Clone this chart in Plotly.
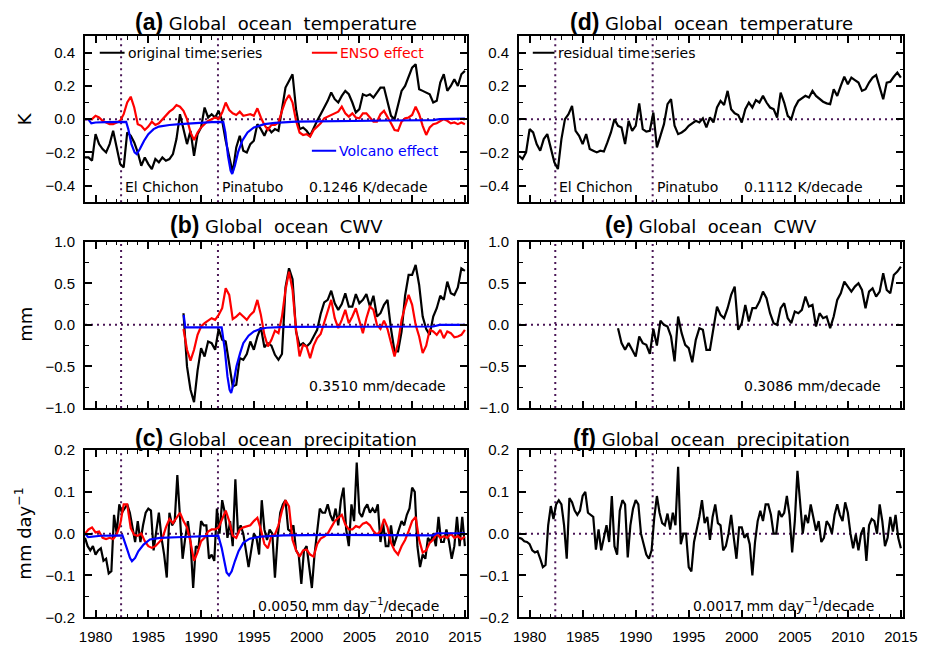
import numpy as np
import plotly.graph_objects as go

W, H = 927, 645
OFF = 8                     # page body margin of the browser
PW, PH = W - OFF, H - OFF   # figure size so that the page fits the window
YEAR0 = 1979.0
X_RANGE = [1979.0, 2015.2]
ERUPTIONS = [1982.42, 1991.6]          # El Chichon, Pinatubo
CWV_START = 1979.0 + 28 / 3.0           # start of the CWV record

# ---------------- (a) Global ocean temperature (K), 4-monthly from 1979 ----------------
temp_orig = [-0.23, -0.23, -0.25, -0.09, -0.15, -0.18, -0.2, -0.15, -0.07, -0.17, -0.27, -0.29,
             -0.08, -0.1, -0.14, -0.2, -0.28, -0.23, -0.27, -0.3, -0.24, -0.26, -0.23, -0.25,
             -0.24, -0.21, -0.12, 0.03, -0.06, -0.15, -0.07, -0.22, -0.09, -0.05, 0.07, 0.01,
             0.03, 0.01, 0.05, -0.01, -0.13, -0.23, -0.32, -0.17, -0.1, -0.19, -0.2, -0.15,
             -0.13, -0.03, -0.06, -0.1, -0.05, -0.08, -0.06, -0.07, 0.05, 0.19, 0.23, 0.27,
             0.06, -0.06, -0.05, -0.07, -0.1, -0.05, -0.01, 0.03, 0.07, 0.11, 0.16, 0.12,
             0.1, 0.14, 0.17, 0.15, 0.1, 0.04, 0.06, 0.15, 0.14, 0.15, 0.13, 0.16,
             0.19, 0.19, 0.1, 0.02, 0.0, 0.08, 0.17, 0.2, 0.25, 0.31, 0.33, 0.18,
             0.17, 0.16, 0.15, 0.1, 0.11, 0.22, 0.27, 0.17, 0.2, 0.24, 0.2, 0.27, 0.29]
temp_enso = [0.0, 0.0, 0.0, 0.02, 0.01, -0.01, -0.02, -0.03, -0.03, -0.02, -0.01, 0.03,
             0.1, 0.135, 0.07, -0.03, -0.04, -0.065, -0.045, -0.015, -0.035, -0.025, 0.0, 0.025,
             0.045, 0.06, 0.085, 0.075, 0.05, 0.0, -0.08, -0.125, -0.08, -0.05, -0.03, -0.01,
             0.0, 0.01, 0.0, 0.04, 0.1, 0.055, 0.035, 0.025, 0.045, 0.02, 0.025, 0.03,
             0.02, 0.065, 0.01, -0.035, -0.065, -0.035, -0.035, -0.02, 0.05, 0.11, 0.145, 0.1,
             -0.01, -0.08, -0.095, -0.09, -0.105, -0.065, -0.045, -0.025, 0.005, 0.015, 0.025, 0.035,
             0.045, 0.075, 0.035, 0.015, 0.035, 0.01, 0.005, 0.035, 0.035, 0.01, -0.015, -0.015,
             0.03, 0.05, 0.015, -0.025, -0.065, -0.07, -0.015, 0.005, 0.01, 0.025, 0.075, 0.03,
             -0.04, -0.095, -0.05, -0.03, -0.025, -0.01, 0.0, -0.01, -0.025, -0.02, -0.03, -0.02, -0.03]
temp_volc_year = [1979.0, 1979.3, 1979.6, 1980.0, 1981.0, 1982.0, 1982.9, 1983.1, 1983.4, 1983.7,
                  1983.9, 1984.2, 1984.6, 1985.0, 1985.5, 1986.0, 1987.0, 1988.0, 1989.0, 1990.0,
                  1991.0, 1992.1, 1992.3, 1992.55, 1992.8, 1992.95, 1993.2, 1993.5, 1993.9, 1994.4,
                  1995.0, 1996.0, 1997.0, 1999.0, 2003.0, 2008.0, 2012.0, 2012.6, 2015.0]
temp_volc = [0.0, 0.0, -0.025, -0.02, -0.018, -0.017, -0.016, -0.06, -0.15, -0.2,
             -0.21, -0.18, -0.13, -0.09, -0.06, -0.045, -0.035, -0.03, -0.025, -0.02,
             -0.018, -0.016, -0.08, -0.22, -0.31, -0.33, -0.28, -0.2, -0.13, -0.08,
             -0.05, -0.03, -0.022, -0.015, -0.01, -0.008, -0.006, 0.0, 0.003]
# ---------------- (d) residual temperature ----------------
temp_resid = [-0.22, -0.24, -0.2, -0.06, -0.08, -0.15, -0.19, -0.12, -0.09, -0.18, -0.26, -0.3,
              -0.12, 0.0, 0.03, 0.08, -0.07, -0.1, -0.15, -0.09, -0.18, -0.19, -0.2, -0.19,
              -0.195, -0.14, -0.08, 0.0, -0.04, -0.05, -0.15, -0.01, -0.07, -0.04, 0.095, -0.06,
              -0.075, -0.07, 0.04, -0.17, -0.1, -0.03, 0.09, 0.12, -0.04, -0.09, -0.08, -0.065,
              -0.04, -0.025, -0.01, -0.02, 0.005, -0.05, 0.01, -0.02, 0.07, 0.11, 0.085, 0.17,
              0.06, 0.035, 0.025, -0.02, 0.06, 0.1, 0.07, 0.115, 0.1, 0.14, 0.1, 0.07,
              0.06, 0.01, 0.16, 0.1, 0.02, 0.0, 0.07, 0.11, 0.125, 0.14, 0.13, 0.17,
              0.14, 0.12, 0.105, 0.095, 0.09, 0.18, 0.14, 0.2, 0.255, 0.21, 0.25, 0.235,
              0.22, 0.17, 0.18, 0.22, 0.25, 0.265, 0.19, 0.12, 0.22, 0.225, 0.255, 0.28, 0.25]

# ---------------- (b) Global ocean CWV (mm), 4-monthly from 1988.33 ----------------
cwv_orig = [0.14, -0.5, -0.78, -0.93, -0.55, -0.28, -0.38, -0.2, -0.22, -0.3, -0.05, -0.18,
            -0.2, -0.45, -0.74, -0.72, -0.4, -0.42, -0.35, -0.2, -0.3, -0.14, -0.03, -0.27,
            -0.22, -0.25, -0.36, -0.42, -0.35, 0.45, 0.68, 0.55, -0.08, -0.25, -0.22, -0.26,
            -0.22, -0.14, -0.06, 0.13, 0.27, 0.3, 0.41, 0.26, 0.18, 0.25, 0.38, 0.22,
            0.22, 0.37, 0.26, 0.3, 0.37, 0.22, 0.35, 0.1, 0.14, 0.24, 0.3, -0.05,
            -0.32, -0.32, -0.08, 0.35, 0.6, 0.6, 0.72, 0.48, 0.1, -0.05, -0.12, 0.1,
            0.2, 0.35, 0.3, 0.52, 0.38, 0.36, 0.45, 0.68, 0.65]
cwv_enso = [-0.05, -0.3, -0.43, -0.3, -0.12, -0.02, 0.02, 0.05, 0.08, 0.06, 0.12, 0.2,
            0.44, 0.36, 0.07, 0.1, 0.14, 0.1, 0.06, 0.12, 0.16, 0.3, 0.12, -0.12,
            -0.26, -0.18, -0.07, -0.1, 0.1, 0.42, 0.64, 0.42, -0.06, -0.38, -0.24, -0.26,
            -0.4, -0.25, -0.16, -0.11, 0.03, 0.14, 0.3, 0.08, -0.04, 0.06, 0.18, 0.02,
            0.1, 0.2, 0.06, -0.1, 0.08, 0.22, 0.18, 0.0, -0.05, 0.05, -0.05, -0.2,
            -0.38, -0.22, 0.06, 0.22, 0.36, 0.24, 0.0, -0.14, -0.34, -0.25, -0.06, -0.08,
            -0.12, -0.06, -0.16, -0.08, -0.1, -0.15, -0.14, -0.12, -0.06]
cwv_volc_year = [1988.35, 1988.5, 1990.0, 1991.95, 1992.25, 1992.5, 1992.7, 1992.85, 1993.05,
                 1993.35, 1993.7, 1994.0, 1994.5, 1995.0, 1995.6, 1996.2, 1998.0, 2005.0,
                 2012.0, 2012.6, 2015.0]
cwv_volc = [0.12, -0.03, -0.03, -0.03, -0.3, -0.62, -0.78, -0.82, -0.72,
            -0.5, -0.34, -0.22, -0.13, -0.08, -0.05, -0.035, -0.025, -0.02,
            -0.02, 0.0, 0.0]
# ---------------- (e) residual CWV ----------------
cwv_resid = [-0.04, -0.22, -0.3, -0.22, -0.3, -0.38, -0.14, -0.22, -0.24, -0.35, -0.05, -0.25,
             0.05, 0.0, -0.02, -0.14, -0.44, 0.1, -0.1, -0.24, -0.28, -0.45, -0.18, -0.04,
             -0.06, -0.3, -0.3, -0.03, 0.22, 0.12, 0.08, 0.2, 0.36, 0.46, -0.06, 0.02,
             0.24, 0.04, 0.2, 0.2, 0.28, 0.4, 0.32, 0.14, 0.02, 0.0, 0.2, 0.26,
             0.08, 0.02, 0.16, 0.14, 0.18, 0.34, 0.22, 0.24, -0.02, 0.14, 0.08, 0.1,
             -0.04, 0.1, 0.3, 0.38, 0.52, 0.46, 0.4, 0.46, 0.5, 0.42, 0.2, 0.4,
             0.44, 0.34, 0.4, 0.62, 0.42, 0.38, 0.6, 0.64, 0.7]

# ---------------- (c) Global ocean precipitation (mm/day), quarterly from 1979 ----------------
prec_orig = [-0.01, -0.03, -0.04, -0.03, -0.05, -0.04, -0.035, -0.065, -0.06, -0.095, -0.09, 0.045,
             0.0, 0.07, 0.05, 0.06, 0.07, 0.05, 0.01, -0.02, 0.03, -0.02, 0.02, 0.05,
             0.06, 0.055, -0.04, 0.0, 0.05, -0.01, -0.05, -0.105, 0.05, 0.02, 0.03, 0.14,
             0.05, -0.06, -0.01, 0.03, -0.02, -0.13, -0.03, -0.035, 0.03, 0.02, 0.02, -0.06,
             -0.05, -0.065, 0.06, 0.0, 0.08, 0.05, -0.01, 0.03, -0.03, 0.13, 0.0, 0.02,
             0.0, -0.04, -0.08, -0.04, 0.0, -0.01, -0.05, 0.08, 0.01, -0.015, 0.01, 0.0,
             -0.105, -0.01, 0.05, 0.07, 0.08, 0.01, 0.005, 0.02, -0.04, -0.05, -0.12, -0.04,
             -0.03, -0.08, -0.13, -0.05, 0.0, 0.06, 0.05, 0.05, 0.07, 0.045, 0.03, 0.06,
             0.02, 0.08, 0.11, 0.01, -0.03, 0.07, 0.03, 0.17, 0.05, 0.04, 0.06, 0.07,
             0.05, 0.06, 0.05, 0.07, -0.02, 0.025, -0.03, -0.03, 0.02, -0.03, -0.01, 0.01,
             0.03, 0.02, 0.045, 0.06, 0.11, 0.1, -0.03, -0.08, -0.05, -0.06, -0.01, -0.02,
             0.0, -0.03, 0.04, -0.02, -0.02, 0.01, -0.02, -0.06, -0.03, 0.04, -0.03, 0.04, -0.03]
prec_enso = [0.0, 0.01, 0.015, 0.003, 0.005, -0.01, -0.013, -0.01, -0.013, -0.002, 0.022, 0.07,
             0.07, 0.013, -0.003, -0.005, 0.0, -0.018, -0.03, -0.034, -0.03, -0.022, -0.012, 0.015,
             0.035, 0.025, 0.038, 0.05, 0.03, 0.015, -0.02, -0.065, -0.045, -0.018, -0.01, 0.005,
             0.01, 0.01, 0.015, 0.035, 0.055, 0.03, -0.005, -0.01, 0.01, 0.015, 0.018, 0.02,
             0.03, 0.038, 0.01, -0.025, -0.035, -0.005, -0.002, 0.02, 0.055, 0.08, 0.065, -0.015,
             -0.04, -0.055, -0.04, -0.038, -0.05, -0.055, -0.025, -0.012, -0.007, 0.0, 0.015, 0.03,
             0.038, 0.045, 0.022, 0.01, 0.01, 0.018, 0.015, 0.024, 0.027, 0.02, 0.006, -0.002,
             0.006, 0.035, 0.015, -0.022, -0.04, -0.05, -0.03, -0.015, 0.006, 0.03, 0.04, -0.015,
             -0.045, -0.04, -0.022, -0.014, 0.0, -0.01, -0.006, -0.01, 0.0, -0.01, -0.006, -0.013, -0.007]
prec_volc_year = [1979.0, 1979.3, 1980.5, 1982.55, 1982.95, 1983.26, 1983.45, 1983.75, 1984.05,
                  1984.55, 1985.15, 1986.1, 1988.3, 1991.63, 1991.95, 1992.17, 1992.42, 1992.65,
                  1992.9, 1993.2, 1993.55, 1994.0, 1994.6, 1995.6, 1997.8, 2002.5, 2012.0,
                  2012.3, 2015.0]
prec_volc = [0.0, -0.008, -0.005, -0.004, -0.034, -0.058, -0.066, -0.058, -0.042,
             -0.026, -0.014, -0.01, -0.008, -0.005, -0.034, -0.065, -0.093, -0.1,
             -0.09, -0.066, -0.042, -0.022, -0.012, -0.007, -0.004, -0.003, -0.004,
             0.001, 0.001]
# ---------------- (f) residual precipitation ----------------
prec_resid = [-0.01, -0.012, -0.018, -0.02, -0.025, -0.04, -0.045, -0.042, -0.06, -0.08, -0.075, 0.02,
              0.066, 0.035, 0.07, 0.08, 0.07, 0.02, -0.06, 0.085, 0.075, 0.055, 0.045, 0.055,
              0.09, 0.1, 0.05, 0.045, 0.04, -0.038, 0.01, -0.04, -0.01, 0.02, -0.02, 0.09,
              -0.03, -0.05, 0.055, 0.08, 0.07, -0.057, 0.02, 0.06, 0.08, 0.07, 0.0, -0.025,
              -0.05, -0.06, -0.04, 0.038, 0.09, 0.05, 0.025, 0.02, 0.048, 0.01, 0.05, 0.02,
              0.16, -0.025, 0.0, 0.0, -0.08, -0.09, -0.02, 0.01, 0.04, 0.08, 0.025, 0.04,
              -0.015, 0.04, 0.07, 0.025, 0.02, -0.04, -0.03, 0.0, 0.045, -0.01, -0.06, 0.015,
              0.015, -0.01, 0.0, -0.025, -0.1, -0.02, 0.03, 0.055, 0.03, 0.07, 0.07, 0.045,
              0.0, 0.0, 0.055, 0.04, 0.05, 0.09, 0.045, -0.045, 0.03, 0.15, 0.08, 0.0,
              0.045, 0.025, 0.07, 0.04, 0.007, 0.03, -0.02, -0.01, 0.03, 0.02, 0.0, 0.045,
              0.07, 0.045, 0.03, 0.075, 0.05, 0.0, -0.035, -0.002, -0.04, 0.0, 0.015, -0.065,
              0.02, 0.035, 0.03, 0.0, 0.07, 0.03, -0.03, -0.01, 0.04, 0.005, 0.045, -0.01, -0.035]

titles = ["Global ocean temperature", "Global ocean CWV", "Global ocean precipitation"]
panel_letters = [["a", "b", "c"], ["d", "e", "f"]]
ytitles = ["K", "mm", "mm day<sup>\u22121</sup>"]
trend_texts = [["0.1246 K/decade", "0.3510 mm/decade", "0.0050 mm day<sup>\u22121</sup>/decade"],
               ["0.1112 K/decade", "0.3086 mm/decade", "0.0017 mm day<sup>\u22121</sup>/decade"]]

BLACK, RED, BLUE, PURPLE = "#000000", "#ff0000", "#0000ff", "#4a1656"
TXT_FONT = "DejaVu Sans"
TICK_FONT = "Liberation Sans"

COLS_PX = [(85, 467), (519, 903)]
ROWS_PX = [(36, 202.3), (241.7, 408), (450, 617.3)]
Y_SPECS = [(-0.5, 0.5, 0.2, 0.1), (-1.0, 1.0, 0.5, 0.25), (-0.2, 0.2, 0.1, 0.05)]


def px_x(px):
    return (px - OFF) / PW


def px_y(py):
    return 1 - (py - OFF) / PH


def t_grid(start, n, step):
    return start + np.arange(n) * step


fig = go.Figure()
layout = dict(template="none", width=PW, height=PH, autosize=False,
              margin=dict(l=0, r=0, t=0, b=0, pad=0, autoexpand=False), showlegend=False,
              plot_bgcolor="white", paper_bgcolor="white")
shapes, annotations = [], []

for c, (xl, xr) in enumerate(COLS_PX):
    for r, (yt, yb) in enumerate(ROWS_PX):
        n = c * 3 + r + 1
        ymin, ymax, ydt, ymn = Y_SPECS[r]
        layout[f"xaxis{n}"] = dict(
            domain=[px_x(xl), px_x(xr)], anchor=f"y{n}", range=X_RANGE, automargin=False,
            tick0=1980, dtick=5, ticks="inside", ticklen=7, tickwidth=1.5, tickcolor="black",
            minor=dict(ticks="inside", ticklen=3.5, dtick=1, tickwidth=1.2, tickcolor="black"),
            mirror="allticks", showline=True, linewidth=2, linecolor="black",
            showgrid=False, zeroline=False, showticklabels=(r == 2),
            tickfont=dict(family=TICK_FONT, size=15, color="black"), ticklabelstandoff=5)
        layout[f"yaxis{n}"] = dict(
            domain=[px_y(yb), px_y(yt)], anchor=f"x{n}", range=[ymin, ymax], automargin=False,
            tick0=0, dtick=ydt, tickformat=".1f", ticks="inside", ticklen=7, tickwidth=1.5,
            tickcolor="black",
            minor=dict(ticks="inside", ticklen=3.5, dtick=ymn, tickwidth=1.2, tickcolor="black"),
            mirror="allticks", showline=True, linewidth=2, linecolor="black",
            showgrid=False, zeroline=False,
            tickfont=dict(family=TICK_FONT, size=15, color="black"), ticklabelstandoff=5)
        # dotted zero line and eruption lines
        dot = dict(color=PURPLE, width=2, dash="2px,4px")
        shapes.append(dict(type="line", xref=f"x{n}", yref=f"y{n}", x0=X_RANGE[0], x1=X_RANGE[1],
                           y0=0, y1=0, line=dot, layer="below"))
        for ex in ERUPTIONS:
            shapes.append(dict(type="line", xref=f"x{n}", yref=f"y{n}", x0=ex, x1=ex,
                               y0=ymin, y1=ymax, line=dot, layer="below"))
        # panel title
        ymid = {0: 22, 1: 225, 2: 438}[r]
        annotations.append(dict(
            xref="paper", yref="paper", x=px_x((xl + xr) / 2), y=px_y(ymid),
            xanchor="center", yanchor="middle", showarrow=False,
            text=(f'<span style="font-family:{TICK_FONT};font-size:23px"><b>({panel_letters[c][r]})</b></span>'
                  f' {titles[r].replace(" ", chr(160) + " ")}'),
            font=dict(family=TXT_FONT, size=18, color="black")))
        # trend text
        ytr = {0: -0.41, 1: -0.74, 2: -0.171}[r]
        xtr = 2000.05 if r < 2 else 1995.2
        annotations.append(dict(xref=f"x{n}", yref=f"y{n}", x=xtr, y=ytr, xanchor="left",
                                yanchor="middle", showarrow=False, text=trend_texts[c][r],
                                font=dict(family=TXT_FONT, size=14, color="black")))
        if r == 0:
            for ex, nm in zip(ERUPTIONS, ["El Chichon", "Pinatubo"]):
                annotations.append(dict(xref=f"x{n}", yref=f"y{n}", x=ex + 0.2, y=-0.41,
                                        xanchor="left", yanchor="middle", showarrow=False,
                                        text=nm, font=dict(family=TXT_FONT, size=14, color="black")))

# y-axis titles
for r, (yt, yb) in enumerate(ROWS_PX):
    xpx = {0: 24, 1: 26, 2: 23}[r]
    annotations.append(dict(xref="paper", yref="paper", x=px_x(xpx), y=px_y((yt + yb) / 2),
                            xanchor="center", yanchor="middle", showarrow=False, textangle=-90,
                            text=ytitles[r], font=dict(family=TXT_FONT, size=18, color="black")))

# legend-like labels
def legend_item(n, x0, x1, y, color, label):
    shapes.append(dict(type="line", xref=f"x{n}", yref=f"y{n}", x0=x0, x1=x1, y0=y, y1=y,
                       line=dict(color=color, width=2)))
    annotations.append(dict(xref=f"x{n}", yref=f"y{n}", x=x1 + 0.1, y=y, xanchor="left",
                            yanchor="middle", showarrow=False, text=label,
                            font=dict(family=TXT_FONT, size=14, color=color)))

legend_item(1, 1980.4, 1982.75, 0.4, BLACK, "original time series")
legend_item(1, 2000.5, 2002.9, 0.4, RED, "ENSO effect")
legend_item(1, 2000.5, 2002.8, -0.19, BLUE, "Volcano effect")
legend_item(4, 1980.3, 1982.35, 0.4, BLACK, "residual time series")

def line(n, x, y, color):
    fig.add_trace(go.Scatter(x=x, y=y, mode="lines", xaxis=f"x{n}", yaxis=f"y{n}",
                             line=dict(color=color, width=2.2), hoverinfo="skip"))

# (a)
line(1, t_grid(YEAR0, len(temp_orig), 1 / 3), temp_orig, BLACK)
line(1, t_grid(YEAR0, len(temp_enso), 1 / 3), temp_enso, RED)
line(1, temp_volc_year, temp_volc, BLUE)
# (b)
line(2, t_grid(CWV_START, len(cwv_orig), 1 / 3), cwv_orig, BLACK)
line(2, t_grid(CWV_START, len(cwv_enso), 1 / 3), cwv_enso, RED)
line(2, cwv_volc_year, cwv_volc, BLUE)
# (c)
line(3, t_grid(YEAR0, len(prec_orig), 0.25), prec_orig, BLACK)
line(3, t_grid(YEAR0, len(prec_enso), 1 / 3), prec_enso, RED)
line(3, prec_volc_year, prec_volc, BLUE)
# (d), (e), (f)
line(4, t_grid(YEAR0, len(temp_resid), 1 / 3), temp_resid, BLACK)
line(5, t_grid(CWV_START, len(cwv_resid), 1 / 3), cwv_resid, BLACK)
line(6, t_grid(YEAR0, len(prec_resid), 0.25), prec_resid, BLACK)

layout["shapes"] = shapes
layout["annotations"] = annotations
fig.update_layout(**layout)
fig.write_html("out.html", config={"displayModeBar": False})
